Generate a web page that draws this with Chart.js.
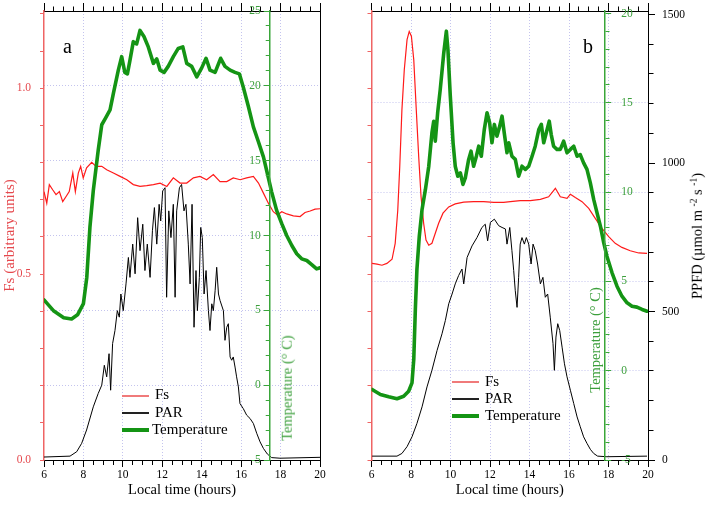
<!DOCTYPE html>
<html><head><meta charset="utf-8">
<script src="https://cdn.jsdelivr.net/npm/chart.js@4/dist/chart.umd.min.js"></script>
<style>
html,body{margin:0;padding:0;background:#fff;}
#wrap{position:relative;width:708px;height:507px;overflow:hidden;font-family:"Liberation Serif","Times New Roman",serif;}
canvas{position:absolute;left:0;top:0;}
.t{position:absolute;white-space:nowrap;line-height:1;}
.rot{position:absolute;white-space:nowrap;line-height:1;transform:translate(-50%,-50%) rotate(-90deg);}
.ln{position:absolute;}
sup{font-size:0.65em;vertical-align:0.55em;line-height:0;}
</style></head>
<body>
<div id="wrap">
<canvas id="cA" width="708" height="507"></canvas>
<canvas id="cA2" width="708" height="507"></canvas>
<canvas id="cB" width="708" height="507"></canvas>
<canvas id="cB2" width="708" height="507"></canvas>

<div class="t" style="left:63px;top:36px;font-size:20px;color:#000;">a</div>
<div class="t" style="left:583px;top:36px;font-size:20px;color:#000;">b</div>

<div class="rot" style="left:287px;top:388px;font-size:14.5px;color:#3c9f3c;">Temperature (° C)</div>
<div class="rot" style="left:595px;top:340px;font-size:14.5px;color:#3c9f3c;">Temperature (° C)</div>
<div class="rot" style="left:697px;top:236px;font-size:14.5px;color:#000;">PPFD (µmol m <sup>-2</sup> s <sup>-1</sup>)</div>

<div class="ln" style="left:122px;top:395px;width:27px;height:2px;background:#f07a7a;"></div>
<div class="t" style="left:155px;top:387px;font-size:15px;">Fs</div>
<div class="ln" style="left:122px;top:412px;width:27px;height:1.5px;background:#222;"></div>
<div class="t" style="left:155px;top:404.5px;font-size:15px;">PAR</div>
<div class="ln" style="left:122px;top:428px;width:27px;height:3.5px;background:#149414;"></div>
<div class="t" style="left:152px;top:422px;font-size:15px;">Temperature</div>

<div class="ln" style="left:452px;top:381px;width:27px;height:2px;background:#f07a7a;"></div>
<div class="t" style="left:485px;top:374px;font-size:15px;">Fs</div>
<div class="ln" style="left:452px;top:398px;width:27px;height:1.5px;background:#222;"></div>
<div class="t" style="left:485px;top:391px;font-size:15px;">PAR</div>
<div class="ln" style="left:452px;top:414px;width:27px;height:3.5px;background:#149414;"></div>
<div class="t" style="left:485px;top:408px;font-size:15px;">Temperature</div>
</div>

<script>
// ---------------- data ----------------
// Panel a
const aFsHours = [6.0,6.14,6.27,6.44,6.61,6.78,6.95,7.12,7.28,7.46,7.59,7.74,7.86,7.99,8.16,8.42,8.64,8.93,9.18,9.52,9.86,10.2,10.53,10.87,11.21,11.55,11.89,12.23,12.56,12.9,13.24,13.58,13.91,14.25,14.59,14.93,15.27,15.6,15.95,16.28,16.62,16.88,17.13,17.38,17.63,17.84,18.06,18.31,18.65,18.99,19.24,19.5,19.75,20.0];
const aFsValues = [0.722,0.691,0.741,0.727,0.714,0.722,0.695,0.709,0.722,0.772,0.722,0.772,0.79,0.759,0.786,0.801,0.79,0.79,0.781,0.772,0.763,0.754,0.741,0.736,0.738,0.741,0.745,0.736,0.759,0.745,0.745,0.759,0.763,0.754,0.768,0.749,0.749,0.759,0.754,0.759,0.763,0.745,0.718,0.691,0.668,0.659,0.668,0.662,0.657,0.655,0.666,0.67,0.675,0.676];

const aParHours = [6.0,7.32,7.66,7.91,8.16,8.5,8.75,8.93,9.06,9.18,9.3,9.38,9.48,9.6,9.72,9.82,9.9,10.02,10.16,10.28,10.36,10.5,10.62,10.75,10.87,11.01,11.12,11.24,11.38,11.5,11.6,11.72,11.84,11.92,12.02,12.14,12.22,12.33,12.44,12.56,12.65,12.73,12.87,12.98,13.1,13.2,13.32,13.41,13.51,13.61,13.71,13.78,13.88,13.95,14.03,14.12,14.22,14.34,14.42,14.51,14.59,14.68,14.76,14.85,14.93,15.1,15.18,15.27,15.35,15.44,15.52,15.6,15.69,15.77,15.86,15.94,16.11,16.28,16.45,16.62,16.79,16.96,17.13,17.33,17.55,17.97,20.0];
const aParValues = [10,13,28,56,101,179,224,252,319,280,358,235,392,436,503,481,559,503,593,682,615,727,627,816,705,794,638,727,615,772,850,727,861,805,906,917,548,839,749,861,548,839,917,928,839,861,727,593,861,447,638,503,615,783,749,559,638,503,436,526,503,570,649,559,537,503,403,447,459,347,336,347,313,280,246,190,173,151,140,123,90,61,39,20,8,6,9];

const aTempHours = [6.0,6.5,7.0,7.4,7.7,8.0,8.17,8.33,8.5,8.75,8.93,9.1,9.35,9.52,9.77,9.94,10.1,10.23,10.36,10.53,10.7,10.87,11.07,11.29,11.55,11.72,11.89,12.09,12.3,12.56,12.81,13.04,13.24,13.49,13.75,14.0,14.22,14.42,14.68,14.96,15.18,15.44,15.69,15.91,16.11,16.37,16.62,16.88,17.13,17.33,17.55,17.8,18.06,18.31,18.57,18.82,19.07,19.33,19.58,19.83,20.0];
const aTempValues = [5.7,4.95,4.5,4.42,4.7,5.45,7.2,10.56,13.0,15.7,17.4,17.8,18.4,19.5,21.05,21.95,20.9,20.8,21.7,22.95,22.8,23.7,23.3,22.6,21.5,21.8,21.05,20.9,21.3,21.95,22.5,22.6,21.5,21.3,20.6,21.2,21.84,21.05,20.9,21.84,21.3,21.05,20.9,20.8,19.9,18.6,17.26,16.25,15.25,14.14,12.9,11.68,10.79,10.0,9.33,8.78,8.44,8.33,8.06,7.77,7.84];

// Panel b
const bFsHours = [6.03,6.28,6.53,6.78,7.04,7.2,7.33,7.43,7.54,7.66,7.8,7.91,8.02,8.14,8.25,8.39,8.51,8.64,8.76,8.9,9.06,9.23,9.4,9.62,9.91,10.24,10.67,11.17,11.68,12.19,12.69,13.03,13.53,14.04,14.55,14.97,15.31,15.56,15.9,16.07,16.32,16.66,17.0,17.33,17.67,18.01,18.34,18.68,19.1,19.53,19.95];
const bFsValues = [0.529,0.527,0.524,0.529,0.54,0.583,0.672,0.789,0.942,1.05,1.131,1.153,1.14,1.077,0.96,0.816,0.708,0.637,0.592,0.578,0.583,0.61,0.637,0.664,0.681,0.689,0.694,0.695,0.695,0.693,0.693,0.695,0.698,0.698,0.701,0.708,0.731,0.708,0.704,0.715,0.706,0.695,0.677,0.65,0.623,0.601,0.583,0.572,0.563,0.557,0.556];

const bParHours = [6.03,7.29,7.54,7.8,8.05,8.3,8.56,8.81,9.06,9.32,9.57,9.74,9.91,10.08,10.24,10.41,10.58,10.67,10.84,11.09,11.34,11.59,11.76,11.88,12.02,12.22,12.44,12.61,12.78,12.86,13.0,13.11,13.2,13.28,13.37,13.45,13.53,13.62,13.74,13.84,13.96,14.08,14.18,14.29,14.41,14.55,14.68,14.8,14.92,15.05,15.19,15.26,15.34,15.43,15.53,15.65,15.77,15.9,16.07,16.24,16.41,16.57,16.74,16.91,17.08,17.25,17.45,17.92,19.95];
const bParValues = [13,13,22,45,78,123,179,246,302,369,425,470,526,559,593,621,643,593,682,721,749,783,794,738,800,811,789,783,778,727,783,705,638,570,514,615,727,749,727,749,727,660,727,705,660,593,615,548,559,481,392,302,414,459,436,380,324,280,235,190,145,112,78,56,36,22,13,11,13];

const bTempHours = [6.03,6.45,6.87,7.29,7.63,7.88,8.05,8.14,8.22,8.3,8.42,8.56,8.73,8.9,9.06,9.15,9.23,9.35,9.48,9.66,9.79,9.87,9.99,10.13,10.24,10.37,10.5,10.63,10.75,10.92,11.04,11.17,11.31,11.43,11.56,11.71,11.85,11.98,12.1,12.22,12.35,12.47,12.61,12.72,12.86,12.95,13.11,13.28,13.45,13.62,13.79,13.96,14.13,14.29,14.47,14.6,14.72,14.85,15.0,15.1,15.22,15.39,15.56,15.73,15.9,16.07,16.24,16.41,16.57,16.74,16.91,17.08,17.25,17.42,17.59,17.76,17.92,18.18,18.43,18.68,18.94,19.19,19.44,19.7,19.95];
const bTempValues = [-1.05,-1.33,-1.46,-1.57,-1.43,-1.15,-0.68,0.63,3.43,5.67,7.53,9.03,10.15,11.45,13.32,13.97,12.85,14.44,15.74,17.8,19.01,17.98,15.37,12.76,11.45,10.89,11.08,10.43,10.8,11.83,12.29,11.45,12.01,12.57,12.01,13.5,14.44,13.88,12.76,13.79,13.13,13.6,14.25,13.32,12.2,12.76,12.01,11.83,10.89,11.45,11.27,11.45,12.01,12.57,13.5,13.79,12.76,13.32,13.97,13.22,12.57,12.39,12.39,12.85,12.2,12.39,12.57,12.01,12.1,11.64,11.27,10.52,9.59,8.84,8.09,7.16,6.41,5.48,4.73,4.17,3.8,3.61,3.56,3.43,3.33];

// axis ranges / tick labels
const hourRange = [6, 20];
const hourLabelStep = 2;
const fsRange = [0, 1.208];
const fsLabelStep = 0.5;
const parRange = [0, 1512];
const parLabelStep = 500;
const tempRangeA = [-5, 25];
const tempRangeB = [-5, 20.14];
const tempLabelStep = 5;
const tempAxisHourA = 17.45;
const tempAxisHourB = 17.83;

// ---------------- helpers ----------------
const SERIF = "'Liberation Serif','Times New Roman',serif";
const GRID = '#c4c4ee';
const NONE = 'rgba(0,0,0,0)';
const RED_LINE = '#ff1a1a';
const RED_AX = '#ef6464';
const RED_TXT = '#e5484d';
const GREEN_LINE = '#149414';
const GREEN_AX = '#3aa63a';
const GREEN_TXT = '#3c9f3c';
const isM = (v, s) => Math.abs(v / s - Math.round(v / s)) < 1e-6;
const tv = ctx => (ctx && ctx.tick) ? ctx.tick.value : NaN;
const pts = (h, v) => h.map((x, i) => ({x, y: v[i]}));
const fixW = w => s => { s.width = w; s.paddingTop = 0; s.paddingBottom = 0; };
const fixH = h => s => { s.height = h; s.paddingLeft = 0; s.paddingRight = 0; };
const tickFont = {family: SERIF, size: 11.5};
const MANY = 1000;

function xBottom() {
  return {
    type: 'linear', position: 'bottom', min: hourRange[0], max: hourRange[1],
    afterFit: fixH(47),
    ticks: {stepSize: 0.5, maxTicksLimit: MANY, autoSkip: false, maxRotation: 0, includeBounds: false,
      callback: v => isM(v, hourLabelStep) ? String(v) : '',
      color: '#000', font: tickFont, padding: 1},
    grid: {drawOnChartArea: true, lineWidth: 1, tickLength: 7, tickColor: '#000', tickWidth: 1,
      color: ctx => { const v = tv(ctx); return (isM(v, hourLabelStep) && v > hourRange[0] && v < hourRange[1]) ? GRID : NONE; },
      tickBorderDash: ctx => isM(tv(ctx), hourLabelStep) ? [] : [4, 100]},
    border: {color: '#000', width: 1, dash: [1, 2]},
    title: {display: true, text: 'Local time (hours)', color: '#000', font: {family: SERIF, size: 14.5}, padding: {top: 0, bottom: 8}}
  };
}
function xTop() {
  return {
    type: 'linear', position: 'top', min: hourRange[0], max: hourRange[1],
    afterFit: fixH(11),
    ticks: {stepSize: 0.5, maxTicksLimit: MANY, autoSkip: false, maxRotation: 0, includeBounds: false, callback: () => '', font: tickFont, padding: 0},
    grid: {drawOnChartArea: false, tickLength: 8, tickColor: '#000', tickWidth: 1,
      tickBorderDash: ctx => isM(tv(ctx), hourLabelStep) ? [] : [0, 3.5, 4.5, 100]},
    border: {color: '#000', width: 1}
  };
}
function yFs(showLabels) {
  return {
    type: 'linear', position: 'left', min: fsRange[0], max: fsRange[1],
    afterFit: fixW(showLabels ? 44 : 11.5),
    ticks: {stepSize: 0.1, maxTicksLimit: MANY, includeBounds: false, autoSkip: false,
      callback: v => (showLabels && isM(v, fsLabelStep)) ? v.toFixed(1) : '',
      color: RED_TXT, font: tickFont, padding: 9},
    grid: {drawOnChartArea: false, tickLength: 4, tickColor: RED_AX, tickWidth: 1},
    border: {color: RED_AX, width: 1.5},
    title: {display: showLabels, text: 'Fs (arbitrary units)', color: RED_TXT, font: {family: SERIF, size: 15}, padding: {top: 1, bottom: 0}}
  };
}
function yTempGrid(range) {
  return {
    type: 'linear', position: 'right', min: range[0], max: range[1],
    afterFit: fixW(0),
    ticks: {stepSize: 5, maxTicksLimit: MANY, includeBounds: false, callback: () => '', font: tickFont, padding: 0},
    grid: {drawTicks: false, lineWidth: 1,
      color: ctx => { const v = tv(ctx); return (isM(v, tempLabelStep) && v > range[0] + 0.01 && v < range[1] - 0.5) ? GRID : NONE; }},
    border: {display: false, dash: [1, 2]}
  };
}
function datasets(fsH, fsV, parH, parV, tH, tV) {
  return [
    {label: 'Temperature', data: pts(tH, tV), yAxisID: 'yT', borderColor: GREEN_LINE, borderWidth: 3.6, pointRadius: 0, tension: 0, borderJoinStyle: 'round', borderCapStyle: 'round'},
    {label: 'Fs', data: pts(fsH, fsV), yAxisID: 'yFs', borderColor: RED_LINE, borderWidth: 1.2, pointRadius: 0, tension: 0},
    {label: 'PAR', data: pts(parH, parV), yAxisID: 'yPar', borderColor: '#000', borderWidth: 1, pointRadius: 0, tension: 0}
  ];
}
const basePlugins = {legend: {display: false}, tooltip: {enabled: false}};

// ---------------- panel a ----------------
new Chart(document.getElementById('cA'), {
  type: 'line',
  data: {datasets: datasets(aFsHours, aFsValues, aParHours, aParValues, aTempHours, aTempValues)},
  options: {
    responsive: false, animation: false, devicePixelRatio: 1,
    layout: {padding: {left: 0, right: 388, top: 0, bottom: 0}},
    plugins: basePlugins,
    scales: {
      x: xBottom(),
      xTop: xTop(),
      yFs: yFs(true),
      yPar: {type: 'linear', position: 'right', min: parRange[0], max: parRange[1], afterFit: fixW(0),
        ticks: {callback: () => '', padding: 0, font: tickFont},
        grid: {drawOnChartArea: false, drawTicks: false},
        border: {color: '#000', width: 1}},
      yT: yTempGrid(tempRangeA)
    }
  }
});
// temperature axis of panel a (placed inside the plot at tempAxisHourA)
new Chart(document.getElementById('cA2'), {
  type: 'line',
  data: {datasets: []},
  options: {
    responsive: false, animation: false, devicePixelRatio: 1,
    layout: {padding: {left: 0, right: 388, top: 11, bottom: 47}},
    plugins: basePlugins,
    scales: {
      x: {type: 'linear', display: false, min: tempAxisHourA, max: hourRange[1]},
      y: {type: 'linear', position: 'left', min: tempRangeA[0], max: tempRangeA[1],
        afterFit: s => { s.width = 44 + (tempAxisHourA - hourRange[0]) * (276 / 14); s.paddingTop = 0; s.paddingBottom = 0; },
        ticks: {stepSize: 1, maxTicksLimit: MANY, autoSkip: false, includeBounds: false,
          callback: v => isM(v, tempLabelStep) ? String(v) : '',
          color: GREEN_TXT, font: tickFont, padding: 3},
        grid: {drawOnChartArea: false, tickLength: 6, tickColor: GREEN_AX, tickWidth: 1,
          tickBorderDash: ctx => isM(tv(ctx), tempLabelStep) ? [] : [0, 2, 4, 100]},
        border: {color: GREEN_AX, width: 1.5}}
    }
  }
});

// ---------------- panel b ----------------
new Chart(document.getElementById('cB'), {
  type: 'line',
  data: {datasets: datasets(bFsHours, bFsValues, bParHours, bParValues, bTempHours, bTempValues)},
  options: {
    responsive: false, animation: false, devicePixelRatio: 1,
    layout: {padding: {left: 360, right: 0, top: 0, bottom: 0}},
    plugins: basePlugins,
    scales: {
      x: xBottom(),
      xTop: xTop(),
      yFs: yFs(false),
      yPar: {type: 'linear', position: 'right', min: parRange[0], max: parRange[1], afterFit: fixW(60),
        ticks: {stepSize: 100, maxTicksLimit: MANY, autoSkip: false, includeBounds: false,
          callback: v => isM(v, parLabelStep) ? String(v) : '',
          color: '#000', font: tickFont, padding: 7},
        grid: {drawOnChartArea: false, tickLength: 7, tickColor: '#000', tickWidth: 1,
          tickBorderDash: ctx => isM(tv(ctx), parLabelStep) ? [] : [4.5, 100]},
        border: {color: '#000', width: 1}},
      yT: yTempGrid(tempRangeB)
    }
  }
});
// temperature axis of panel b (placed inside the plot at tempAxisHourB)
new Chart(document.getElementById('cB2'), {
  type: 'line',
  data: {datasets: []},
  options: {
    responsive: false, animation: false, devicePixelRatio: 1,
    layout: {padding: {left: 380, right: 0, top: 11, bottom: 47}},
    plugins: basePlugins,
    scales: {
      x: {type: 'linear', display: false, min: hourRange[0] + 0.5, max: tempAxisHourB},
      y: {type: 'linear', position: 'right', min: tempRangeB[0], max: tempRangeB[1],
        afterFit: s => { s.width = 708 - (371.5 + (tempAxisHourB - hourRange[0]) * (276.5 / 14)); s.paddingTop = 0; s.paddingBottom = 0; },
        ticks: {stepSize: 1, maxTicksLimit: MANY, autoSkip: false, includeBounds: false,
          callback: v => isM(v, tempLabelStep) ? String(v) : '',
          color: GREEN_TXT, font: tickFont, padding: 10},
        grid: {drawOnChartArea: false, tickLength: 6, tickColor: GREEN_AX, tickWidth: 1,
          tickBorderDash: ctx => isM(tv(ctx), tempLabelStep) ? [] : [4, 100]},
        border: {color: GREEN_AX, width: 1.5}}
    }
  }
});
</script>
</body></html>
